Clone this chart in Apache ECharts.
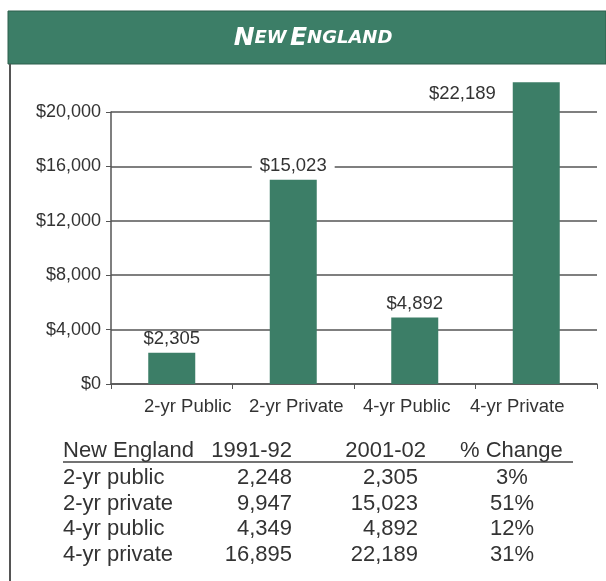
<!DOCTYPE html>
<html>

<head>
    <title>New England - Tuition</title>
    <meta charset="utf-8">
    <script src="https://cdn.jsdelivr.net/npm/echarts@6/dist/echarts.min.js"></script>
    <style>
        body { margin: 0; background: #fff; }
    </style>
</head>

<body>
    <!-- chart container, same size as the window -->
    <div id="main" style="width: 606px;height:581px;"></div>

    <script type="text/javascript">
        // chart data
        var categories = ['2-yr Public', '2-yr Private', '4-yr Public', '4-yr Private'];
        var values = [2305, 15023, 4892, 22189];
        var yTicks = [0, 4000, 8000, 12000, 16000, 20000];

        // table data
        var tableHead = ['New England', '1991-92', '2001-02', '% Change'];
        var rowNames = ['2-yr public', '2-yr private', '4-yr public', '4-yr private'];
        var col9192 = ['2,248', '9,947', '4,349', '16,895'];
        var col0102 = ['2,305', '15,023', '4,892', '22,189'];
        var colChange = ['3%', '51%', '12%', '31%'];

        var green = '#3c7e67';
        var ink = '#333';
        var font = 'Liberation Sans, Arial, sans-serif';

        var myChart = echarts.init(document.getElementById('main'));

        function money(v) {
            return '$' + v.toLocaleString('en-US');
        }

        // the category labels in the original are spread a little narrower than the bars
        var labelShift = [16, 3, -8, -19];
        var labelRich = {};
        labelShift.forEach(function (d, i) {
            labelRich['c' + i] = {
                fontSize: 18.5, fontFamily: font, color: ink,
                padding: d > 0 ? [0, 0, 0, 2 * d] : [0, -2 * d, 0, 0]
            };
        });

        // table as text elements
        var tFont = '22px ' + font;
        var headY = 451;
        var rowY = [478, 503.5, 529, 554.5];
        var graphics = [
            // header band
            { type: 'rect', shape: { x: 8, y: 11, width: 598, height: 53 }, style: { fill: green, stroke: '#2d5e4c', lineWidth: 1 } },
            {
                type: 'text', x: 313, y: 38,
                style: {
                    text: '{b|N}{s|EW} {b|E}{s|NGLAND}',
                    align: 'center', verticalAlign: 'middle',
                    rich: {
                        b: { fontSize: 25, fontWeight: 'bold', fontStyle: 'italic', fill: '#fff', fontFamily: 'DejaVu Sans' },
                        s: { fontSize: 18, fontWeight: 'bold', fontStyle: 'italic', fill: '#fff', fontFamily: 'DejaVu Sans' }
                    }
                }
            },
            // left border
            { type: 'line', shape: { x1: 10, y1: 64, x2: 10, y2: 581 }, style: { stroke: '#555', lineWidth: 2 } },
            // header underline
            { type: 'line', shape: { x1: 63, y1: 462, x2: 573, y2: 462 }, style: { stroke: '#444', lineWidth: 1.5 } }
        ];

        var headX = [63, 292, 426, 460];
        var headAlign = ['left', 'right', 'right', 'left'];
        tableHead.forEach(function (t, i) {
            graphics.push({ type: 'text', x: headX[i], y: headY, style: { text: t, fill: ink, font: tFont, verticalAlign: 'middle', align: headAlign[i] } });
        });
        rowNames.forEach(function (name, i) {
            var y = rowY[i];
            graphics.push({ type: 'text', x: 63, y: y, style: { text: name, fill: ink, font: tFont, verticalAlign: 'middle', align: 'left' } });
            graphics.push({ type: 'text', x: 292, y: y, style: { text: col9192[i], fill: ink, font: tFont, verticalAlign: 'middle', align: 'right' } });
            graphics.push({ type: 'text', x: 418, y: y, style: { text: col0102[i], fill: ink, font: tFont, verticalAlign: 'middle', align: 'right' } });
            graphics.push({ type: 'text', x: 512, y: y, style: { text: colChange[i], fill: ink, font: tFont, verticalAlign: 'middle', align: 'center' } });
        });

        var barData = values.map(function (v, i) {
            if (i === 3) {
                // last bar: label sits left of the bar top
                return { value: v, label: { position: [-9, 12], align: 'right', verticalAlign: 'middle' } };
            }
            return v;
        });

        var option = {
            animation: false,
            grid: { left: 111, right: 9, top: 112, bottom: 197 },
            xAxis: {
                type: 'category',
                data: categories,
                axisLine: { lineStyle: { color: '#555', width: 1.5 } },
                axisTick: { show: true, interval: 0, length: 5, lineStyle: { color: '#555' } },
                axisLabel: {
                    interval: 0,
                    hideOverlap: false,
                    color: ink, fontSize: 18.5, fontFamily: font, margin: 13,
                    formatter: function (v, i) { return '{c' + i + '|' + v + '}'; },
                    rich: labelRich
                }
            },
            yAxis: {
                type: 'value',
                min: yTicks[0],
                max: yTicks[yTicks.length - 1],
                interval: yTicks[1] - yTicks[0],
                axisLine: { show: true, lineStyle: { color: '#555', width: 1.5 } },
                axisTick: { show: true, length: 5, lineStyle: { color: '#555' } },
                axisLabel: { color: ink, fontSize: 18, fontFamily: font, margin: 10, formatter: money },
                splitLine: { lineStyle: { color: '#555', width: 1.5 } }
            },
            series: [{
                type: 'bar',
                data: barData,
                barWidth: 47,
                clip: false,
                itemStyle: { color: green },
                label: {
                    show: true,
                    position: 'top',
                    distance: 7,
                    color: ink,
                    fontSize: 18.5,
                    lineHeight: 14,
                    fontFamily: font,
                    backgroundColor: '#fff',
                    padding: [0, 8],
                    formatter: function (p) { return money(p.value); }
                }
            }],
            graphic: graphics
        };

        myChart.setOption(option);
    </script>
</body>

</html>
